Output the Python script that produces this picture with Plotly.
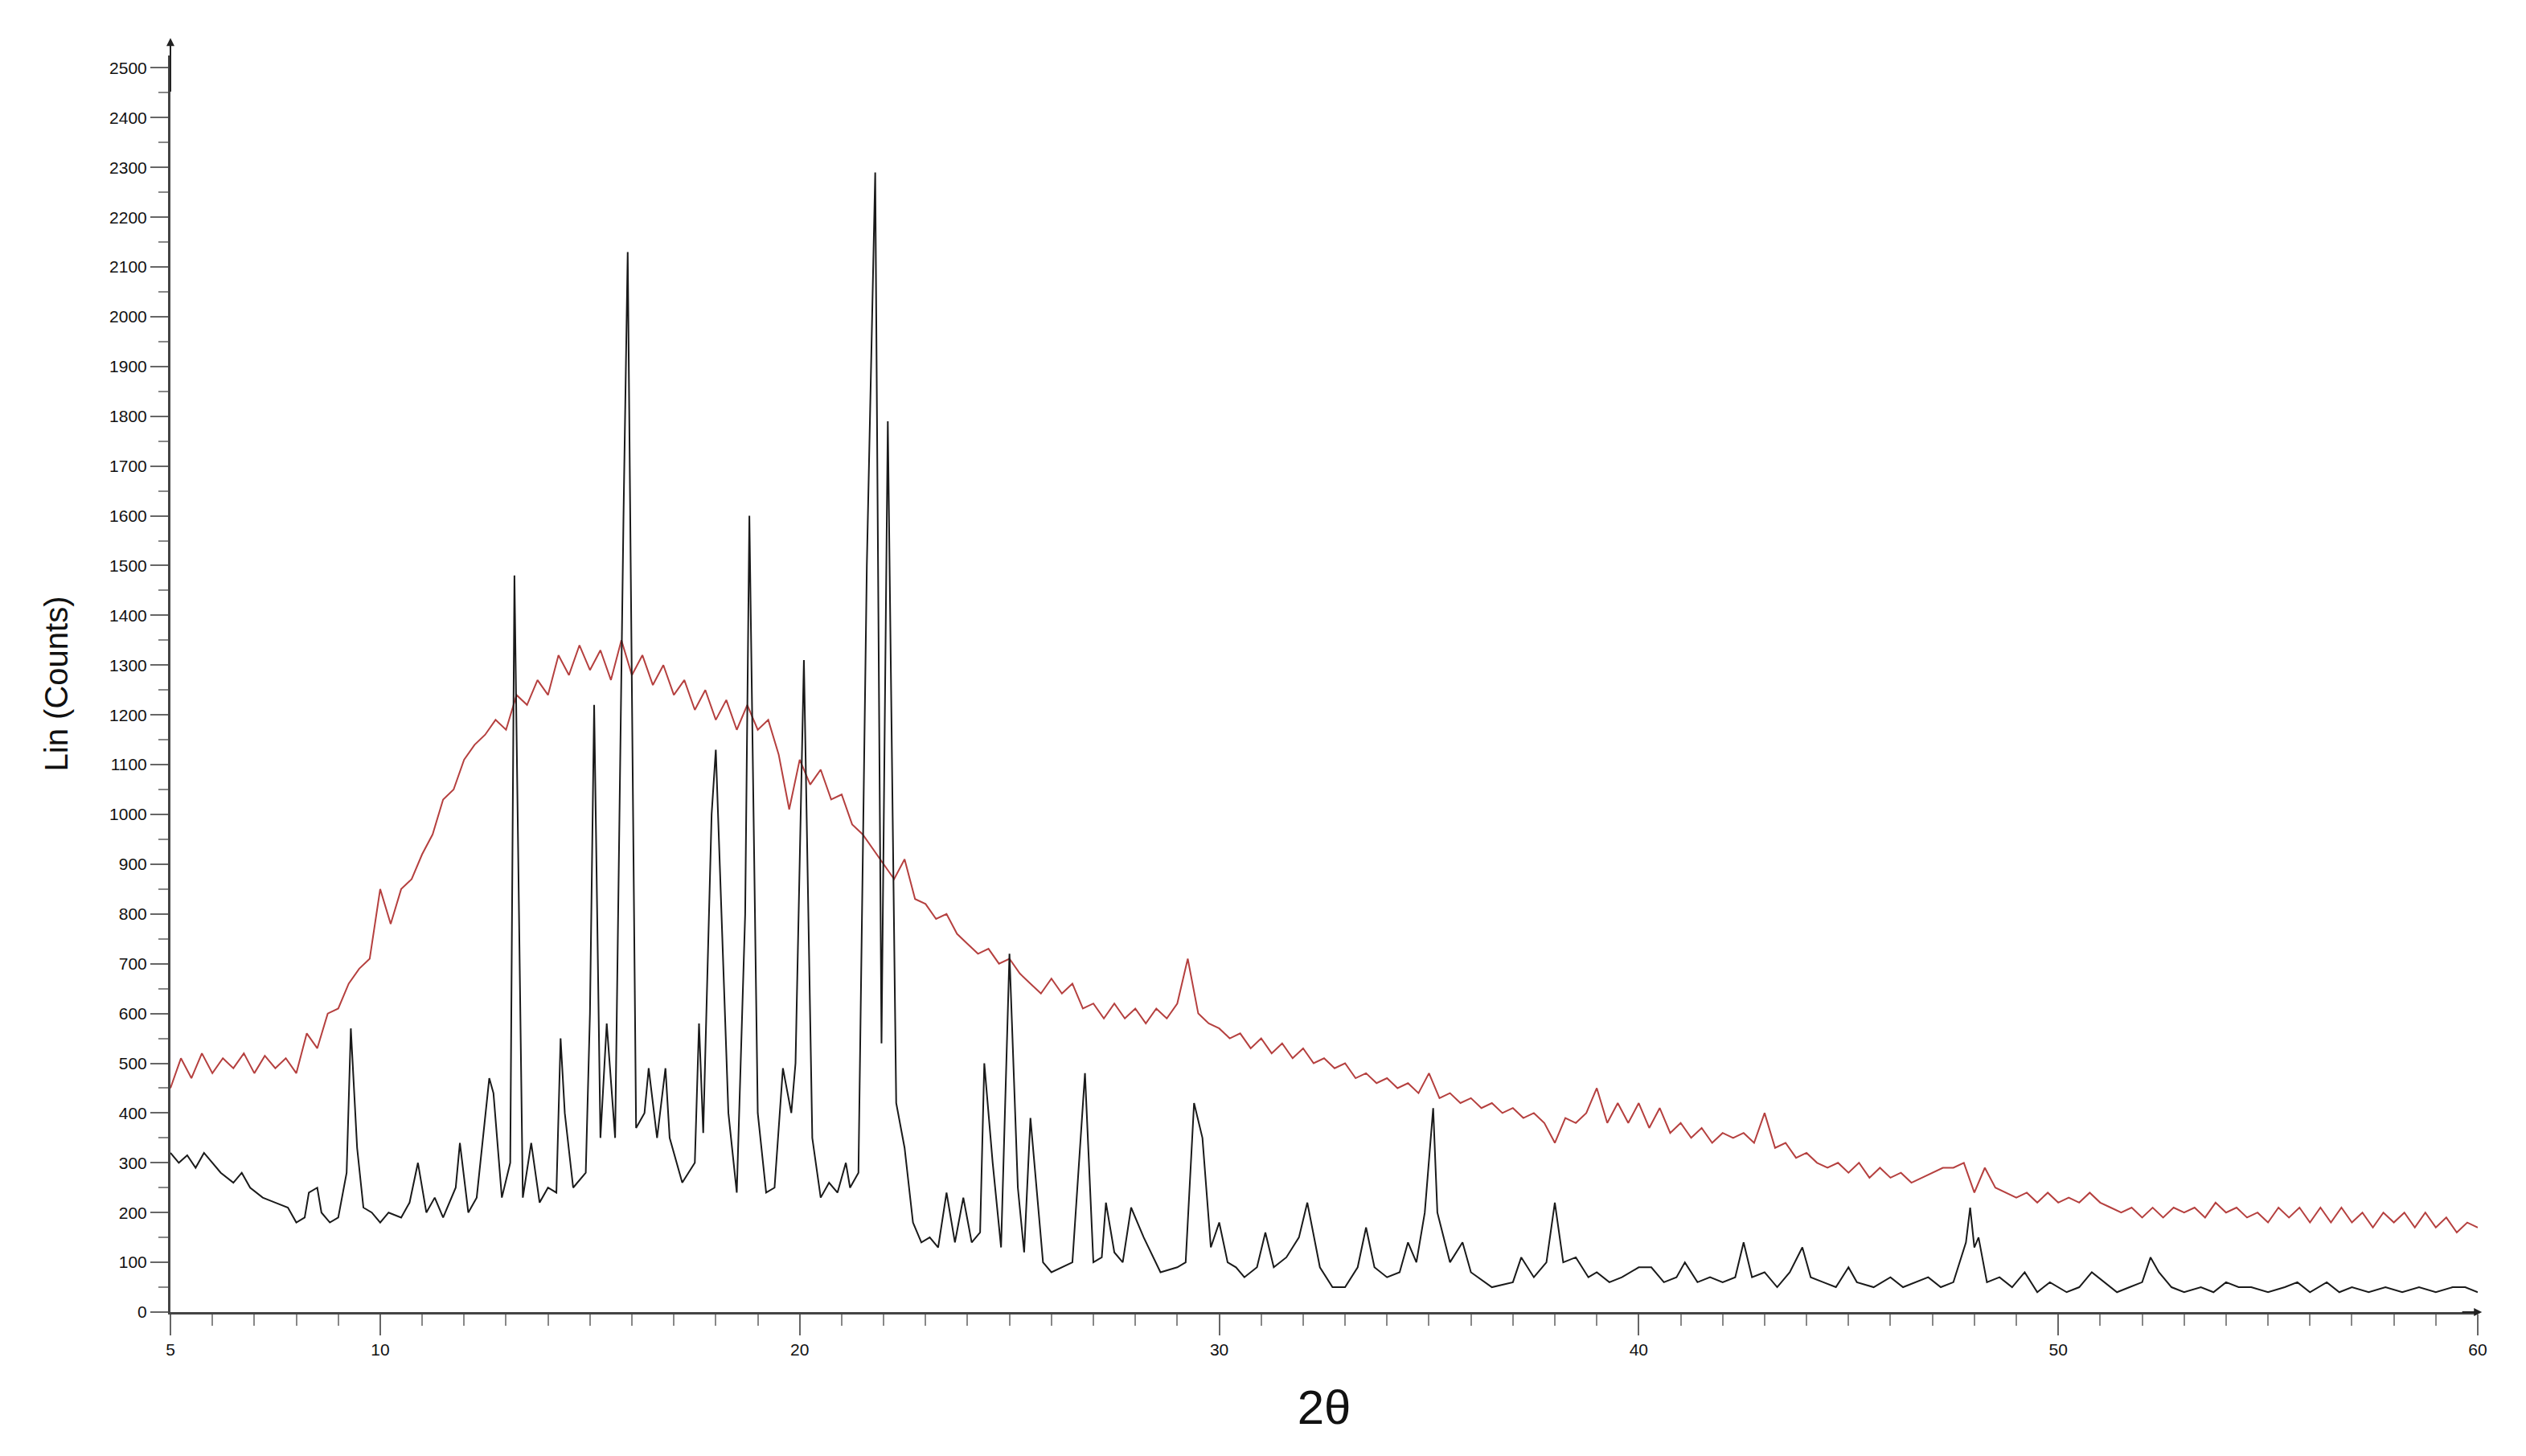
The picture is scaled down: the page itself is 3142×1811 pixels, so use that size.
import plotly.graph_objects as go

black_x = [5.0,5.2,5.4,5.6,5.8,6.0,6.2,6.5,6.7,6.9,7.2,7.5,7.8,8.0,8.2,8.3,8.5,8.6,8.8,9.0,9.2,9.3,9.45,9.6,9.8,10.0,10.2,10.5,10.7,10.9,11.1,11.3,11.5,11.8,11.9,12.1,12.3,12.6,12.7,12.9,13.1,13.2,13.4,13.6,13.8,14.0,14.2,14.3,14.4,14.6,14.9,15.0,15.1,15.25,15.4,15.6,15.8,15.9,16.1,16.3,16.4,16.6,16.8,16.9,17.2,17.5,17.6,17.7,17.9,18.0,18.3,18.5,18.7,18.8,19.0,19.2,19.4,19.6,19.8,19.9,20.1,20.3,20.5,20.7,20.9,21.1,21.2,21.4,21.6,21.8,21.95,22.1,22.3,22.5,22.7,22.9,23.1,23.3,23.5,23.7,23.9,24.1,24.3,24.4,24.6,24.8,25.0,25.2,25.35,25.5,25.8,26.0,26.5,26.8,27.0,27.2,27.3,27.5,27.7,27.9,28.2,28.6,29.0,29.2,29.4,29.6,29.8,30.0,30.2,30.4,30.6,30.9,31.1,31.3,31.6,31.9,32.1,32.4,32.7,33.0,33.3,33.5,33.7,34.0,34.3,34.5,34.7,34.9,35.1,35.2,35.5,35.8,36.0,36.5,37.0,37.2,37.5,37.8,38.0,38.2,38.5,38.8,39.0,39.3,39.6,40.0,40.3,40.6,40.9,41.1,41.4,41.7,42.0,42.3,42.5,42.7,43.0,43.3,43.6,43.9,44.1,44.4,44.7,45.0,45.2,45.6,46.0,46.3,46.6,46.9,47.2,47.5,47.8,47.9,48.0,48.1,48.3,48.6,48.9,49.2,49.5,49.8,50.2,50.5,50.8,51.1,51.4,51.7,52.0,52.2,52.4,52.7,53.0,53.4,53.7,54.0,54.3,54.6,55.0,55.4,55.7,56.0,56.4,56.7,57.0,57.4,57.8,58.2,58.6,59.0,59.4,59.7,60.0]
black_y = [320,300,315,290,320,300,280,260,280,250,230,220,210,180,190,240,250,200,180,190,280,570,330,210,200,180,200,190,220,300,200,230,190,250,340,200,230,470,440,230,300,1480,230,340,220,250,240,550,400,250,280,600,1220,350,580,350,1600,2130,370,400,490,350,490,350,260,300,580,360,1000,1130,400,240,800,1600,400,240,250,490,400,500,1310,350,230,260,240,300,250,280,1500,2290,540,1790,420,330,180,140,150,130,240,140,230,140,160,500,300,130,720,250,120,390,100,80,100,480,100,110,220,120,100,210,150,80,90,100,420,350,130,180,100,90,70,90,160,90,110,150,220,90,50,50,90,170,90,70,80,140,100,200,410,200,100,140,80,50,60,110,70,100,220,100,110,70,80,60,70,90,90,60,70,100,60,70,60,70,140,70,80,50,80,130,70,60,50,90,60,50,70,50,60,70,50,60,140,210,130,150,60,70,50,80,40,60,40,50,80,60,40,50,60,110,80,50,40,50,40,60,50,50,40,50,60,40,60,40,50,40,50,40,50,40,50,50,40]

# red curve sampled every 0.25 degrees from 5 to 60
red_y = [450,510,470,520,480,510,490,520,480,515,490,510,480,560,530,600,610,660,690,710,
         850,780,850,870,920,960,1030,1050,1110,1140,1160,1190,1170,1240,1220,1270,1240,1320,1280,1340,
         1290,1330,1270,1350,1280,1320,1260,1300,1240,1270,1210,1250,1190,1230,1170,1220,1170,1190,1120,1010,
         1110,1060,1090,1030,1040,980,960,930,900,870,910,830,820,790,800,760,740,720,730,700,
         710,680,660,640,670,640,660,610,620,590,620,590,610,580,610,590,620,710,600,580,
         570,550,560,530,550,520,540,510,530,500,510,490,500,470,480,460,470,450,460,440,
         480,430,440,420,430,410,420,400,410,390,400,380,340,390,380,400,450,380,420,380,
         420,370,410,360,380,350,370,340,360,350,360,340,400,330,340,310,320,300,290,300,
         280,300,270,290,270,280,260,270,280,290,290,300,240,290,250,240,230,240,220,240,
         220,230,220,240,220,210,200,210,190,210,190,210,200,210,190,220,200,210,190,200,
         180,210,190,210,180,210,180,210,180,200,170,200,180,200,170,200,170,190,160,180,170]
red_x = [5 + 0.25 * i for i in range(len(red_y))]

y_ticks = list(range(0, 2501, 100))
x_ticks = [5, 10, 20, 30, 40, 50, 60]

fig = go.Figure()
fig.add_trace(go.Scatter(x=red_x, y=red_y, mode="lines", line=dict(color="#b5403f", width=2), showlegend=False))
fig.add_trace(go.Scatter(x=black_x, y=black_y, mode="lines", line=dict(color="#1a1a1a", width=2), showlegend=False))

axis_font = dict(family="Liberation Sans, Arial", size=21, color="#111")
fig.update_layout(
    width=3142, height=1811, paper_bgcolor="white", plot_bgcolor="white",
    margin=dict(l=204, r=68, t=61, b=187),
    xaxis=dict(range=[5, 60], tickvals=x_ticks, ticktext=[str(v) for v in x_ticks],
               showgrid=False, zeroline=False, showline=True, linecolor="#444", linewidth=3,
               ticks="outside", ticklen=26, tickcolor="#666", tickwidth=2, tickfont=axis_font,
               minor=dict(dtick=1, tick0=5, ticks="outside", ticklen=14, tickcolor="#888", tickwidth=2),
               title=dict(text="2θ", font=dict(family="Liberation Sans, Arial", size=60, color="#111"), standoff=40)),
    yaxis=dict(range=[0, 2525], tickvals=y_ticks, ticktext=[str(v) for v in y_ticks],
               showgrid=False, zeroline=False, showline=True, linecolor="#444", linewidth=3,
               ticks="outside", ticklen=22, tickcolor="#666", tickwidth=2, tickfont=axis_font,
               minor=dict(dtick=50, ticks="outside", ticklen=12, tickcolor="#888", tickwidth=2),
               title=dict(text="Lin (Counts)", font=dict(family="Liberation Sans, Arial", size=40, color="#111"), standoff=40)),
)
fig.add_annotation(x=5, y=2560, ax=5, ay=2450, xref="x", yref="y", axref="x", ayref="y",
                   showarrow=True, arrowhead=2, arrowsize=1, arrowwidth=2, arrowcolor="#222", text="")
fig.add_annotation(x=60.1, y=0, ax=59.6, ay=0, xref="x", yref="y", axref="x", ayref="y",
                   showarrow=True, arrowhead=2, arrowsize=1, arrowwidth=2, arrowcolor="#222", text="")
fig.write_html("out.html")
